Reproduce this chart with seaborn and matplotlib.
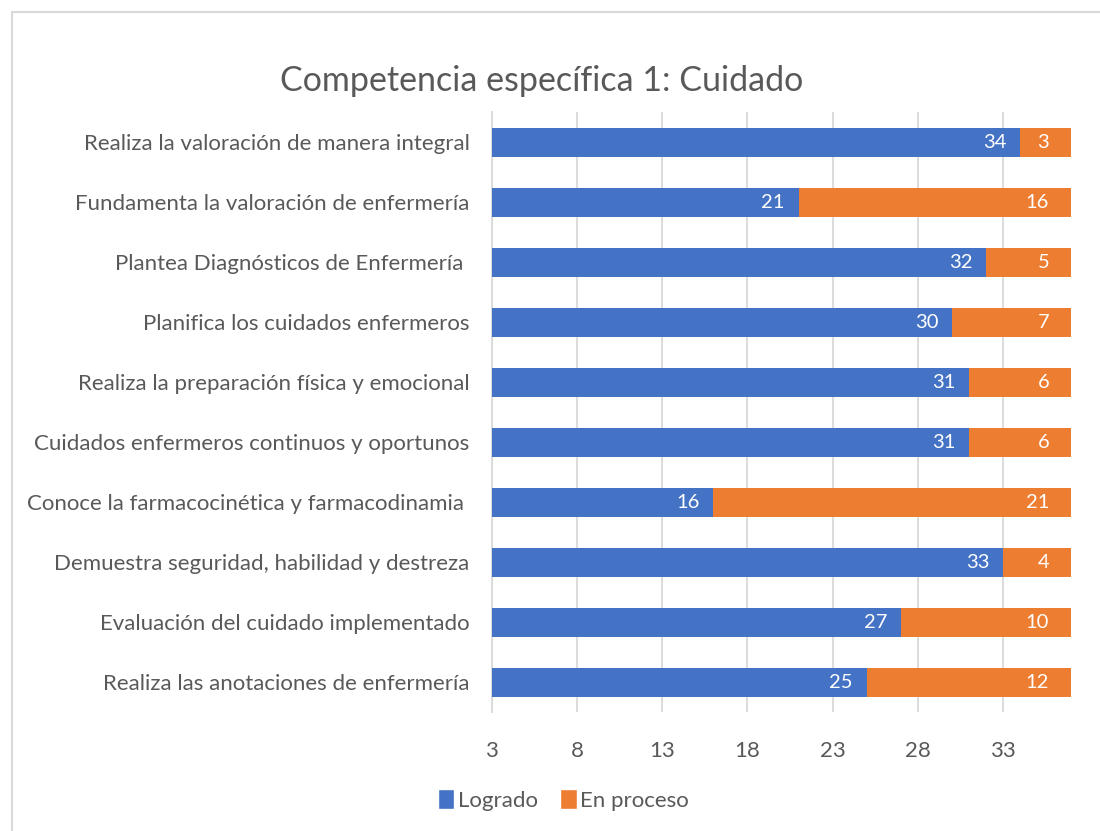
import pandas as pd
import matplotlib
matplotlib.use("Agg")
import matplotlib.pyplot as plt
import seaborn as sns
from matplotlib.patches import Rectangle, Patch

# Data
categorias = [
    "Realiza la valoración de manera integral",
    "Fundamenta la valoración de enfermería",
    "Plantea Diagnósticos de Enfermería ",
    "Planifica los cuidados enfermeros",
    "Realiza la preparación física y emocional",
    "Cuidados enfermeros continuos y oportunos",
    "Conoce la farmacocinética y farmacodinamia ",
    "Demuestra seguridad, habilidad y destreza",
    "Evaluación del cuidado implementado",
    "Realiza las anotaciones de enfermería",
]
logrado = [34, 21, 32, 30, 31, 31, 16, 33, 27, 25]
en_proceso = [3, 16, 5, 7, 6, 6, 21, 4, 10, 12]
x_ticks = [3, 8, 13, 18, 23, 28, 33]

AZUL = "#4472C4"
NARANJA = "#ED7D31"
GRIS = "#595959"

sns.set_style("white")
plt.rcParams['font.family'] = ['Lato', 'DejaVu Sans']

df = pd.DataFrame({"Categoria": categorias, "Logrado": logrado, "En proceso": en_proceso})
df["Total"] = df["Logrado"] + df["En proceso"]

fig = plt.figure(figsize=(11, 8.31), dpi=100)
ax = fig.add_axes([0.447, 0.143, 0.527, 0.722])

# stacked: total in orange, logrado in blue on top
sns.barplot(data=df, x="Total", y="Categoria", orient="h", color=NARANJA,
            saturation=1, width=0.48, linewidth=0, ax=ax, zorder=2)
sns.barplot(data=df, x="Logrado", y="Categoria", orient="h", color=AZUL,
            saturation=1, width=0.48, linewidth=0, ax=ax, zorder=3)

for i, row in df.iterrows():
    ax.annotate(str(row["Logrado"]), (row["Logrado"], i), xytext=(-10, 0),
                textcoords="offset points", ha="right", va="center",
                color="white", fontsize=14.5, zorder=4)
    ax.annotate(str(row["En proceso"]), (row["Total"], i), xytext=(-16, 0),
                textcoords="offset points", ha="right", va="center",
                color="white", fontsize=14.5, zorder=4)

ax.set_xlim(3, 37)
ax.set_xticks(x_ticks)
ax.set_xlabel("")
ax.set_ylabel("")
ax.grid(axis="x", color="#D9D9D9", linewidth=1.3, zorder=0)
ax.set_axisbelow(True)
for s in ["top", "right", "bottom"]:
    ax.spines[s].set_visible(False)
ax.spines["left"].set_color("#D9D9D9")
ax.spines["left"].set_linewidth(1.3)
ax.tick_params(axis="both", length=0, colors=GRIS, labelsize=16)
ax.tick_params(axis="x", pad=21)
ax.tick_params(axis="y", pad=16)

fig.text(0.492, 0.902, "Competencia específica 1: Cuidado", ha="center", va="center",
         fontsize=24.5, color=GRIS)

handles = [Patch(facecolor=AZUL, label="Logrado"), Patch(facecolor=NARANJA, label="En proceso")]
fig.legend(handles=handles, loc="center", bbox_to_anchor=(0.512, 0.037), ncol=2,
           frameon=False, handlelength=0.75, handleheight=1.0, handletextpad=0.15,
           columnspacing=1.0, fontsize=16, labelcolor=GRIS)

fig.patches.append(Rectangle((12 / 1100, -0.1), 1.2, 1.1 - 12 / 831, transform=fig.transFigure,
                             fill=False, edgecolor="#D9D9D9", linewidth=1.5))

fig.savefig("out.png", dpi=100)
